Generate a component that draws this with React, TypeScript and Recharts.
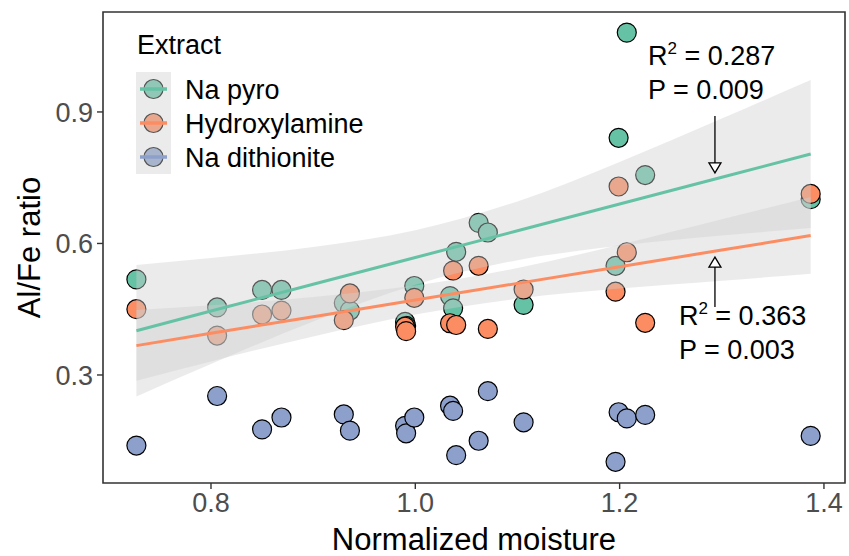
import React from "react";
import {
  ComposedChart,
  Scatter,
  Area,
  Line,
  XAxis,
  YAxis,
  ReferenceArea,
  ReferenceLine,
  ReferenceDot,
  Legend,
} from "recharts";

// moisture of each site, shared by the three extracts
const moisture = [0.727, 0.806, 0.85, 0.869, 0.93, 0.936, 0.99, 0.991, 0.999, 1.034, 1.037, 1.04, 1.062, 1.071, 1.106, 1.196, 1.199, 1.207, 1.225, 1.387];
const naPyro = [0.518, 0.454, 0.494, 0.494, 0.464, 0.447, 0.421, 0.412, 0.503, 0.48, 0.452, 0.581, 0.647, 0.625, 0.46, 0.549, 0.841, 1.081, 0.756, 0.701];
const hydroxylamine = [0.45, 0.39, 0.438, 0.447, 0.425, 0.486, 0.41, 0.4, 0.476, 0.418, 0.538, 0.414, 0.549, 0.405, 0.495, 0.49, 0.73, 0.58, 0.419, 0.713];
const naDithionite = [0.139, 0.252, 0.176, 0.203, 0.21, 0.173, 0.184, 0.167, 0.203, 0.23, 0.218, 0.117, 0.15, 0.263, 0.192, 0.102, 0.215, 0.201, 0.209, 0.161];

// fitted lines and their confidence bands, read along x
const fitX = [0.727, 0.8, 0.9, 1.0, 1.1, 1.2, 1.3, 1.387];
const pyroFit = [0.401, 0.446, 0.507, 0.568, 0.629, 0.69, 0.751, 0.804];
const pyroLow = [0.251, 0.325, 0.422, 0.506, 0.562, 0.595, 0.618, 0.635];
const pyroHigh = [0.551, 0.567, 0.592, 0.63, 0.696, 0.786, 0.885, 0.973];
const hydroFit = [0.367, 0.395, 0.433, 0.471, 0.509, 0.547, 0.585, 0.618];
const hydroLow = [0.287, 0.331, 0.388, 0.438, 0.474, 0.497, 0.515, 0.531];
const hydroHigh = [0.448, 0.459, 0.478, 0.504, 0.544, 0.597, 0.655, 0.706];

const xTicks = [0.8, 1.0, 1.2, 1.4];
const yTicks = [0.3, 0.6, 0.9];

const X_DOMAIN: [number, number] = [0.6943, 1.4206];
const Y_DOMAIN: [number, number] = [0.0536, 1.128];

const FONT = "'Liberation Sans', Arial, sans-serif";
const GREEN = "#66C2A5";
const ORANGE = "#FC8D62";
const BLUE = "#8DA0CB";
const BAND = "#CFCFCF";
const BAND_OPACITY = 0.41;

const series = [
  { name: "Na pyro", color: GREEN, values: naPyro },
  { name: "Hydroxylamine", color: ORANGE, values: hydroxylamine },
  { name: "Na dithionite", color: BLUE, values: naDithionite },
];

const fitData = fitX.map((x, i) => ({
  x,
  pyroFit: pyroFit[i],
  pyroBand: [pyroLow[i], pyroHigh[i]],
  hydroFit: hydroFit[i],
  hydroBand: [hydroLow[i], hydroHigh[i]],
}));

const dot = (color: string) => (props: any) => (
  <circle cx={props.cx} cy={props.cy} r={9.5} fill={color} stroke="#000" strokeWidth={1.2} />
);

const Arrow = (props: any) => {
  const { x1, y1, x2, y2 } = props;
  const dir = y2 > y1 ? 1 : -1;
  const base = y2 - dir * 10;
  return (
    <g>
      <line x1={x1} y1={y1} x2={x2} y2={base} stroke="#000" strokeWidth={1.3} />
      <polygon points={`${x2},${y2} ${x2 - 6},${base} ${x2 + 6},${base}`} fill="#fff" stroke="#000" strokeWidth={1.3} />
    </g>
  );
};

const statLabel = (r2: string, p: string) => (props: any) => (
  <text x={props.cx} y={props.cy} fontSize={27} fontFamily={FONT} fill="#000">
    <tspan>R</tspan>
    <tspan dy={-11} fontSize={17}>2</tspan>
    <tspan dy={11}>{` = ${r2}`}</tspan>
    <tspan x={props.cx} dy={34}>{`P = ${p}`}</tspan>
  </text>
);

function ExtractLegend() {
  return (
    <svg width={300} height={170} style={{ display: "block" }}>
      <text x={17} y={34} fontSize={27} fontFamily={FONT} fill="#000">Extract</text>
      {series.map((s, i) => {
        const cy = 69 + i * 34;
        return (
          <g key={s.name}>
            <circle cx={33.5} cy={cy} r={9.5} fill={s.color} stroke="#000" strokeWidth={1.2} />
            <rect x={16} y={cy - 17} width={35} height={34} fill={BAND} fillOpacity={BAND_OPACITY} />
            <line x1={20} y1={cy} x2={47} y2={cy} stroke={s.color} strokeWidth={3.5} />
            <text x={65} y={cy + 10} fontSize={27} fontFamily={FONT} fill="#000">{s.name}</text>
          </g>
        );
      })}
    </svg>
  );
}

const tickStyle = { fontSize: 27, fill: "#4D4D4D", fontFamily: FONT };

export default function App() {
  return (
    <div style={{ position: "absolute", left: 0, top: 0, background: "#fff" }}>
      <ComposedChart
        width={849}
        height={556}
        data={fitData}
        margin={{ top: 12, right: 4, bottom: 0, left: 0 }}
      >
        <XAxis
          type="number"
          dataKey="x"
          domain={X_DOMAIN}
          allowDataOverflow
          ticks={xTicks}
          tickFormatter={(v: number) => v.toFixed(1)}
          tick={tickStyle}
          tickSize={6}
          tickMargin={4}
          axisLine={false}
          tickLine={{ stroke: "#333", strokeWidth: 1.4 }}
          height={73}
          label={{
            content: (p: any) => (
              <text
                x={p.viewBox.x + p.viewBox.width / 2}
                y={p.viewBox.y + 67}
                textAnchor="middle"
                fontSize={31}
                fontFamily={FONT}
                fill="#000"
              >
                Normalized moisture
              </text>
            ),
          }}
        />
        <YAxis
          type="number"
          domain={Y_DOMAIN}
          allowDataOverflow
          ticks={yTicks}
          tickFormatter={(v: number) => v.toFixed(1)}
          tick={tickStyle}
          tickSize={6}
          tickMargin={4}
          axisLine={false}
          tickLine={{ stroke: "#333", strokeWidth: 1.4 }}
          width={103}
          label={{
            content: (p: any) => {
              const cx = p.viewBox.x + 40;
              const cy = p.viewBox.y + p.viewBox.height / 2;
              return (
                <text
                  x={cx}
                  y={cy}
                  transform={`rotate(-90 ${cx} ${cy})`}
                  textAnchor="middle"
                  fontSize={31}
                  fontFamily={FONT}
                  fill="#000"
                >
                  Al/Fe ratio
                </text>
              );
            },
          }}
        />

        {series.map((s) => (
          <Scatter
            key={s.name}
            name={s.name}
            data={moisture.map((x, i) => ({ x, y: s.values[i] }))}
            dataKey="y"
            shape={dot(s.color)}
            zIndex={600}
            isAnimationActive={false}
          />
        ))}

        <Area dataKey="pyroBand" type="monotone" stroke="none" fill={BAND} fillOpacity={BAND_OPACITY} zIndex={700} isAnimationActive={false} />
        <Area dataKey="hydroBand" type="monotone" stroke="none" fill={BAND} fillOpacity={BAND_OPACITY} zIndex={700} isAnimationActive={false} />
        <Line dataKey="pyroFit" type="linear" stroke={GREEN} strokeWidth={3} dot={false} zIndex={800} isAnimationActive={false} />
        <Line dataKey="hydroFit" type="linear" stroke={ORANGE} strokeWidth={3} dot={false} zIndex={800} isAnimationActive={false} />

        <ReferenceArea
          x1={X_DOMAIN[0]}
          x2={X_DOMAIN[1]}
          y1={Y_DOMAIN[0]}
          y2={Y_DOMAIN[1]}
          fill="none"
          stroke="#333"
          strokeWidth={1.6}
          ifOverflow="visible"
          zIndex={900}
        />

        <ReferenceLine segment={[{ x: 1.2933, y: 0.891 }, { x: 1.2933, y: 0.761 }]} shape={Arrow} ifOverflow="visible" zIndex={1000} />
        <ReferenceLine segment={[{ x: 1.2933, y: 0.455 }, { x: 1.2933, y: 0.569 }]} shape={Arrow} ifOverflow="visible" zIndex={1000} />
        <ReferenceDot x={1.2277} y={1.007} r={0} shape={statLabel("0.287", "0.009")} ifOverflow="visible" zIndex={1000} />
        <ReferenceDot x={1.258} y={0.414} r={0} shape={statLabel("0.363", "0.003")} ifOverflow="visible" zIndex={1000} />

        <Legend
          verticalAlign="middle"
          align="center"
          layout="horizontal"
          wrapperStyle={{ left: 120, top: 20, width: 300, height: 170 }}
          content={() => <ExtractLegend />}
        />
      </ComposedChart>
    </div>
  );
}
